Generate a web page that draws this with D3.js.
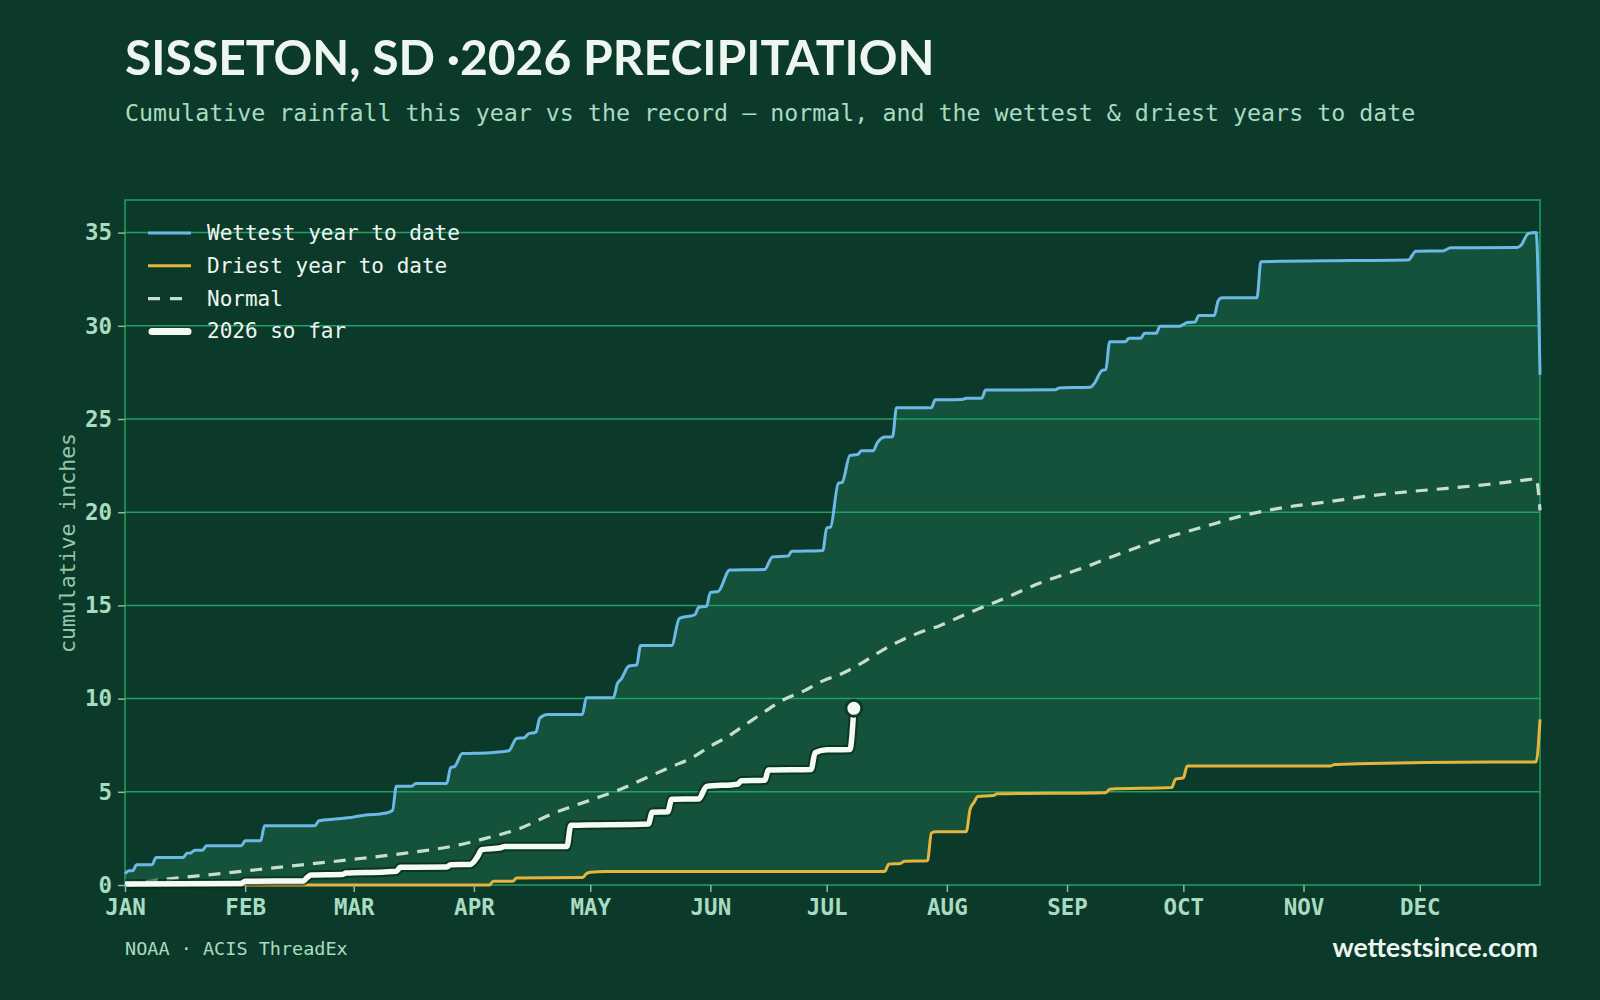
<!DOCTYPE html>
<html><head><meta charset="utf-8">
<script src="https://cdn.jsdelivr.net/npm/d3@7"></script>
<style>
html,body{margin:0;padding:0;background:#0c3a2a;}
svg{display:block;}
</style></head><body>
<svg id="chart" width="1600" height="1000"></svg>
<script>
// ---------- data ----------
const titleText = "SISSETON, SD \u00b72026 PRECIPITATION";
const subtitleText = "Cumulative rainfall this year vs the record \u2014 normal, and the wettest & driest years to date";
const yAxisLabel = "cumulative inches";
const sourceText = "NOAA \u00b7 ACIS ThreadEx";
const brandText = "wettestsince.com";
const monthLabels = ["JAN","FEB","MAR","APR","MAY","JUN","JUL","AUG","SEP","OCT","NOV","DEC"];
const yTicks = [0,5,10,15,20,25,30,35];
const seriesLabels = ["Wettest year to date","Driest year to date","Normal","2026 so far"];

// [day of year (0 = Jan 1), cumulative inches]
const wettest = [[0,0.6],[1,0.77],[2,0.77],[3,1.09],[7,1.09],[8,1.48],[15,1.48],[16,1.7],[17,1.72],[18,1.87],[20,1.87],[21,2.1],[30,2.1],[31,2.37],[35,2.37],[36,3.18],[49,3.18],[50,3.45],[55,3.55],[59,3.65],[62,3.75],[67,3.85],[69,4.0],[70,5.3],[74,5.3],[75,5.45],[83,5.45],[84,6.3],[85,6.35],[87,7.05],[94,7.1],[99,7.2],[101,7.86],[103,7.9],[104,8.1],[106,8.2],[107,8.95],[109,9.15],[118,9.15],[119,10.05],[126,10.05],[127,10.8],[128,11.05],[130,11.75],[132,11.8],[133,12.85],[141,12.85],[143,14.3],[147,14.5],[148,14.9],[150,14.95],[151,15.7],[153,15.75],[156,16.9],[165,16.93],[167,17.6],[171,17.65],[172,17.9],[180,17.95],[181,19.15],[182,19.2],[184,21.55],[185,21.6],[187,23.05],[189,23.1],[190,23.3],[193,23.3],[194,23.7],[196,24.03],[198,24.05],[199,25.6],[208,25.6],[209,26.03],[216,26.05],[217,26.12],[221,26.12],[222,26.55],[240,26.57],[241,26.67],[249,26.7],[250,26.9],[252,27.6],[253,27.65],[254,29.15],[258,29.15],[259,29.33],[262,29.33],[263,29.6],[266,29.6],[267,29.98],[272,29.98],[273,30.07],[274,30.18],[276,30.2],[277,30.56],[281,30.56],[282,31.35],[283,31.5],[292,31.5],[293,33.44],[316,33.5],[331,33.53],[333,34.0],[340,34.02],[342,34.19],[359,34.2],[360,34.3],[362,34.95],[364,35.0],[365,27.37]];

const driest = [[0,0],[94,0],[95,0.2],[100,0.2],[101,0.37],[118,0.4],[119,0.6],[120,0.68],[124,0.73],[196,0.73],[197,1.12],[200,1.15],[201,1.27],[207,1.3],[208,2.78],[209,2.86],[217,2.86],[218,4.07],[219,4.43],[220,4.75],[224,4.8],[225,4.89],[253,4.95],[254,5.14],[270,5.23],[271,5.68],[273,5.75],[274,6.39],[311,6.39],[312,6.46],[318,6.5],[353,6.6],[364,6.6],[365,8.89]];

const normal = [[0,0.05],[10,0.3],[24,0.6],[42,1.0],[59,1.38],[72,1.7],[85,2.1],[93,2.5],[102,3.05],[110,3.8],[120,4.55],[128,5.15],[135,5.8],[141,6.35],[146,6.8],[151,7.45],[155,7.9],[160,8.6],[165,9.3],[170,9.95],[175,10.4],[180,10.95],[185,11.35],[190,11.9],[195,12.55],[200,13.1],[205,13.55],[210,13.9],[215,14.35],[220,14.8],[226,15.3],[236,16.2],[247,17.0],[257,17.8],[268,18.6],[278,19.2],[289,19.85],[299,20.25],[310,20.55],[320,20.85],[331,21.1],[341,21.28],[352,21.5],[362,21.75],[364,21.8],[365,20.1]];

const current = [[0,0.05],[30,0.08],[31,0.2],[46,0.22],[47,0.4],[48,0.54],[56,0.56],[57,0.64],[67,0.7],[70,0.74],[71,0.95],[83,0.97],[84,1.09],[89,1.1],[91,1.55],[92,1.9],[97,2.0],[98,2.07],[114,2.07],[115,3.2],[135,3.27],[136,3.9],[140,3.93],[141,4.6],[148,4.62],[150,5.29],[158,5.41],[159,5.59],[165,5.62],[166,6.17],[177,6.2],[178,7.1],[181,7.25],[187,7.27],[188,9.48]];

// ---------- styles ----------
const C = {
  bg:"#0c3a2a", fill:"#14523b", grid:"#1ea163", tick:"#8db8a0", label:"#a8dcc0",
  wet:"#6cb8e6", dry:"#e6b43c", normal:"#c6ddcf", cur:"#f4faf4", text:"#eef6f0"
};
const mono = "'DejaVu Sans Mono', monospace";
const sans = "Lato, 'Open Sans', sans-serif";

const svg = d3.select("#chart");
svg.append("rect").attr("width",1600).attr("height",1000).attr("fill",C.bg);

const start = new Date(Date.UTC(2026,0,1));
const end = new Date(Date.UTC(2027,0,1));
const dayDate = d => d3.utcDay.offset(start, d);
const x = d3.scaleUtc().domain([start,end]).range([125,1540]);
const y = d3.scaleLinear().domain([0,36.75]).range([885,200]);
const X = d => x(dayDate(d[0])), Y = d => y(d[1]);

const curve = d3.curveMonotoneX;
const line = d3.line().x(X).y(Y).curve(curve);
const areaBelow = d3.area().x(X).y0(y(0)).y1(Y).curve(curve);

// titles
const title = svg.append("text").attr("x",125).attr("y",75)
  .attr("font-family",sans).attr("font-weight",700).attr("font-size",46)
  .attr("fill",C.text).text(titleText);
const tw = title.node().getComputedTextLength();
title.attr("font-size", 46*810/tw);

svg.append("text").attr("x",125).attr("y",121)
  .attr("font-family",mono).attr("font-size",23.3).attr("fill",C.label).text(subtitleText);

// band between wettest and driest
const plot = svg.append("g");
plot.append("path").attr("d",areaBelow(wettest)).attr("fill",C.fill);
plot.append("path").attr("d",areaBelow(driest)).attr("fill",C.bg);

// grid
plot.selectAll("line.grid").data(yTicks.filter(v=>v>0)).join("line")
  .attr("class","grid").attr("x1",125).attr("x2",1540)
  .attr("y1",d=>y(d)).attr("y2",d=>y(d))
  .attr("stroke",C.grid).attr("stroke-width",1.5);
plot.append("rect").attr("x",125).attr("y",200).attr("width",1415).attr("height",685)
  .attr("fill","none").attr("stroke",C.grid).attr("stroke-width",1.5);

// series
plot.append("path").attr("d",line(normal)).attr("fill","none")
  .attr("stroke",C.normal).attr("stroke-width",3.2).attr("stroke-dasharray","12 9");
plot.append("path").attr("d",line(driest)).attr("fill","none")
  .attr("stroke",C.dry).attr("stroke-width",3).attr("stroke-linejoin","round");
plot.append("path").attr("d",line(wettest)).attr("fill","none")
  .attr("stroke",C.wet).attr("stroke-width",3).attr("stroke-linejoin","round");
plot.append("path").attr("d",line(current)).attr("fill","none")
  .attr("stroke","rgba(4,30,20,0.55)").attr("stroke-width",9.5).attr("stroke-linejoin","round");
plot.append("path").attr("d",line(current)).attr("fill","none")
  .attr("stroke",C.cur).attr("stroke-width",5.5).attr("stroke-linejoin","round");
const last = current[current.length-1];
plot.append("circle").attr("cx",X(last)).attr("cy",Y(last)).attr("r",8)
  .attr("fill",C.cur).attr("stroke",C.bg).attr("stroke-width",3);

// axes
const xAxis = d3.axisBottom(x)
  .tickValues(d3.range(12).map(m=>new Date(Date.UTC(2026,m,1))))
  .tickFormat(d=>monthLabels[d.getUTCMonth()])
  .tickSize(7).tickPadding(7);
const gx = svg.append("g").attr("transform","translate(0,885)").call(xAxis);
const yAxis = d3.axisLeft(y).tickValues(yTicks).tickSize(7).tickPadding(6);
const gy = svg.append("g").attr("transform","translate(125,0)").call(yAxis);
[gx,gy].forEach(g=>{
  g.select(".domain").remove();
  g.selectAll(".tick line").attr("stroke",C.tick).attr("stroke-width",1.5);
  g.selectAll(".tick text").attr("fill",C.label).attr("font-family",mono)
    .attr("font-weight",700).attr("font-size",22.5);
});

svg.append("text").attr("transform","translate(75,543) rotate(-90)")
  .attr("text-anchor","middle").attr("font-family",mono).attr("font-size",21.5)
  .attr("fill","#8fc9a9").text(yAxisLabel);

// legend
const legendStyles = [
  {color:C.wet, w:3, dash:null, cap:"butt"},
  {color:C.dry, w:3, dash:null, cap:"butt"},
  {color:C.normal, w:3.2, dash:"12 10", cap:"butt"},
  {color:C.cur, w:7, dash:null, cap:"round"}
];
const lg = svg.append("g");
seriesLabels.forEach((lab,i)=>{
  const yy = 233 + i*32.8;
  const s = legendStyles[i];
  lg.append("line").attr("x1",s.cap==="round"?152:148).attr("x2",s.cap==="round"?188:191)
    .attr("y1",yy).attr("y2",yy).attr("stroke",s.color).attr("stroke-width",s.w)
    .attr("stroke-linecap",s.cap).attr("stroke-dasharray",s.dash);
  lg.append("text").attr("x",207).attr("y",yy).attr("dy","0.33em")
    .attr("font-family",mono).attr("font-size",21).attr("fill",C.text).text(lab);
});

// footer
svg.append("text").attr("x",125).attr("y",955).attr("font-family",mono)
  .attr("font-size",18.5).attr("fill",C.label).text(sourceText);
svg.append("text").attr("x",1538).attr("y",957).attr("text-anchor","end")
  .attr("font-family",sans).attr("font-weight",700).attr("font-size",26.5)
  .attr("fill",C.text).text(brandText);
</script>
</body></html>
